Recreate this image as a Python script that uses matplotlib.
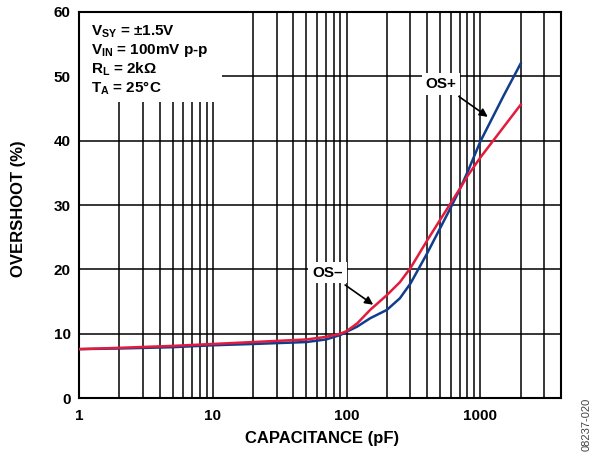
import matplotlib
matplotlib.use("Agg")
import matplotlib.pyplot as plt
from matplotlib.patches import Rectangle

plt.rcParams['font.family'] = ['Liberation Sans', 'DejaVu Sans']
plt.rcParams['mathtext.fontset'] = 'custom'
plt.rcParams['mathtext.rm'] = 'Liberation Sans'
plt.rcParams['mathtext.bf'] = 'Liberation Sans:bold'

# OS- (red)
cap_neg = [1, 2, 5, 10, 20, 50, 70, 90, 100, 120, 150, 200, 250, 300, 400, 500, 600, 700, 800, 1000, 1500, 2000]
os_neg = [7.6, 7.8, 8.1, 8.4, 8.7, 9.1, 9.5, 10.0, 10.4, 11.6, 13.7, 16.0, 18.0, 20.2, 24.5, 27.7, 30.3, 32.5, 34.5, 37.4, 42.2, 45.6]

# OS+ (blue)
cap_pos = [1, 2, 5, 10, 20, 50, 70, 90, 100, 120, 150, 200, 250, 300, 400, 500, 600, 700, 800, 1000, 1500, 2000]
os_pos = [7.6, 7.7, 7.9, 8.2, 8.4, 8.7, 9.1, 9.8, 10.3, 11.1, 12.4, 13.7, 15.5, 17.8, 22.5, 26.4, 29.6, 32.4, 35.1, 39.9, 47.1, 52.0]

x_ticks = [1, 10, 100, 1000]
x_ticklabels = ['1', '10', '100', '1000']
y_ticks = [0, 10, 20, 30, 40, 50, 60]

conditions = [
    r"$\mathbf{V_{SY}}$ = ±1.5V",
    r"$\mathbf{V_{IN}}$ = 100mV p-p",
    r"$\mathbf{R_{L}}$ = 2kΩ",
    r"$\mathbf{T_{A}}$ = 25°C",
]

fig = plt.figure(figsize=(5.97, 4.54), dpi=100)
ax = fig.add_axes([0.1323, 0.1233, 0.8074, 0.8503])

ax.set_xscale('log')
ax.set_xlim(1, 4000)
ax.set_ylim(0, 60)

ax.grid(True, which='both', axis='x', color='black', linewidth=1.1, zorder=1)
ax.grid(True, which='major', axis='y', color='black', linewidth=1.1, zorder=1)
ax.set_axisbelow(True)

# white area behind the conditions text
ax.add_patch(Rectangle((0, 0.767), 0.297, 0.233, transform=ax.transAxes,
                       facecolor='white', edgecolor='none', zorder=1.5))

ax.plot(cap_pos, os_pos, color='#123C8C', linewidth=1.8, zorder=3)
ax.plot(cap_neg, os_neg, color='#E31B3C', linewidth=1.8, zorder=3)

ax.set_xticks(x_ticks)
ax.set_xticklabels(x_ticklabels)
ax.set_yticks(y_ticks)
ax.tick_params(axis='both', which='both', length=0, labelsize=11)
ax.tick_params(axis='x', pad=8)
ax.tick_params(axis='y', pad=6)
for lbl in ax.get_xticklabels() + ax.get_yticklabels():
    lbl.set_fontweight('bold')

for s in ax.spines.values():
    s.set_linewidth(1.5)

ax.set_xlabel('CAPACITANCE (pF)', fontsize=12, fontweight='bold')
ax.set_ylabel('OVERSHOOT (%)', fontsize=12, fontweight='bold')
ax.xaxis.set_label_coords(0.505, -0.085)
ax.yaxis.set_label_coords(-0.110, 0.49)

for i, line in enumerate(conditions):
    ax.text(0.024, 0.940 - i * 0.050, line, transform=ax.transAxes,
            fontsize=11, fontweight='bold', va='baseline', ha='left', zorder=4)

box = dict(boxstyle='square,pad=0.25', facecolor='white', edgecolor='none')
ax.annotate('OS+', xy=(1135, 43.7), xytext=(509, 48.8), fontsize=11,
            fontweight='bold', ha='center', va='center', bbox=box, zorder=5,
            arrowprops=dict(arrowstyle='-|>', color='black', lw=1.2,
                            mutation_scale=12, shrinkA=2, shrinkB=0))
ax.annotate('OS–', xy=(158, 14.5), xytext=(72, 19.5), fontsize=11,
            fontweight='bold', ha='center', va='center', bbox=box, zorder=5,
            arrowprops=dict(arrowstyle='-|>', color='black', lw=1.2,
                            mutation_scale=12, shrinkA=2, shrinkB=0))

fig.text(0.982, 0.066, '08237-020', rotation=90, fontsize=8, color='#444444',
         ha='center', va='center')

fig.savefig('out.png', dpi=100)
